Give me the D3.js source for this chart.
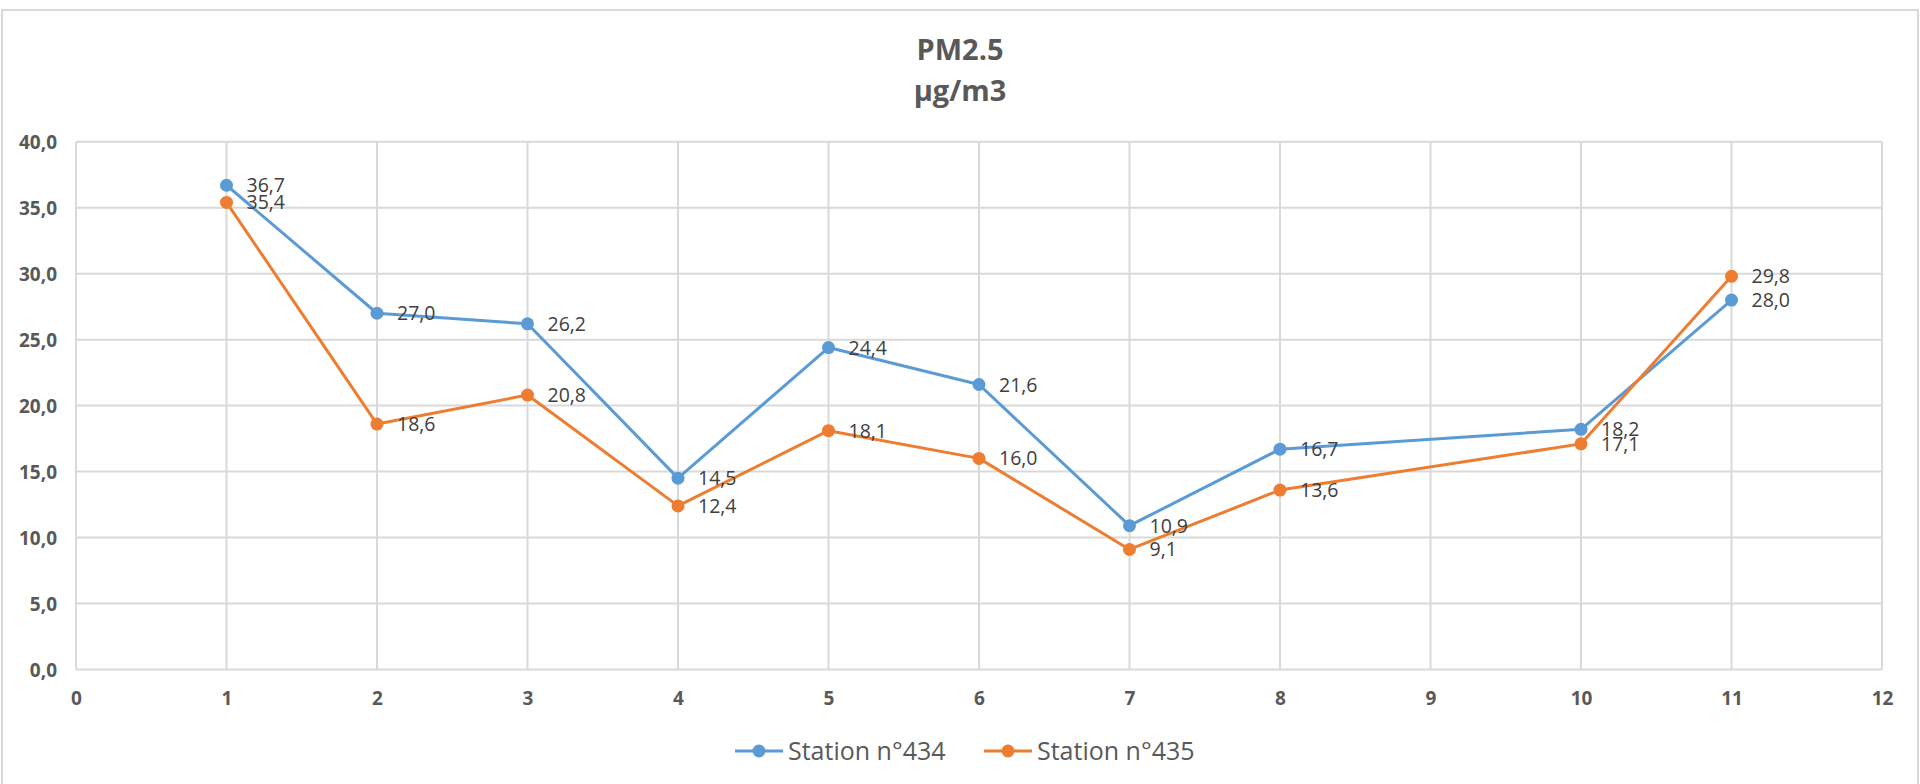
<!DOCTYPE html>
<html>
<head>
<meta charset="utf-8">
<script src="https://cdn.jsdelivr.net/npm/d3@7"></script>
<style>
  html, body { margin: 0; padding: 0; background: #fff; }
  svg { display: block; }
</style>
</head>
<body>
<svg id="chart" width="1920" height="784"></svg>
<script>
// ---- data ----
const titleLines = ["PM2.5", "µg/m3"];
const xValues = [1, 2, 3, 4, 5, 6, 7, 8, 10, 11];
const station434 = [36.7, 27.0, 26.2, 14.5, 24.4, 21.6, 10.9, 16.7, 18.2, 28.0];
const station435 = [35.4, 18.6, 20.8, 12.4, 18.1, 16.0, 9.1, 13.6, 17.1, 29.8];
const seriesNames = ["Station n°434", "Station n°435"];
const seriesColors = ["#5B9BD5", "#ED7D31"];
const xTicks = [0, 1, 2, 3, 4, 5, 6, 7, 8, 9, 10, 11, 12];
const yTicks = [0, 5, 10, 15, 20, 25, 30, 35, 40];

const svg = d3.select("#chart");
const FONT = "'Open Sans', 'Noto Sans', sans-serif";
const fmt = v => d3.format(".1f")(v).replace(".", ",");

// chart border
svg.append("rect")
  .attr("x", 2).attr("y", 10).attr("width", 1916).attr("height", 790)
  .attr("fill", "#fff").attr("stroke", "#d9d9d9").attr("stroke-width", 2);

const x = d3.scaleLinear().domain([0, 12]).range([76, 1882]);
const y = d3.scaleLinear().domain([0, 40]).range([669.5, 141.7]);

// title
svg.append("g").selectAll("text").data(titleLines).join("text")
  .attr("x", 960).attr("y", (d, i) => i === 0 ? 59.5 : 100.5)
  .attr("text-anchor", "middle")
  .attr("font-family", FONT).attr("font-weight", "bold").attr("font-size", 29)
  .attr("fill", "#595959").text(d => d);

// gridlines
const grid = svg.append("g");
grid.selectAll("line.h").data(yTicks).join("line").attr("class", "h")
  .attr("x1", x(0)).attr("x2", x(12))
  .attr("y1", d => y(d)).attr("y2", d => y(d))
  .attr("stroke", "#d9d9d9").attr("stroke-width", 2);
grid.selectAll("line.v").data(xTicks).join("line").attr("class", "v")
  .attr("x1", d => x(d)).attr("x2", d => x(d))
  .attr("y1", y(0)).attr("y2", y(40))
  .attr("stroke", "#d9d9d9").attr("stroke-width", 2);

// axes (labels via d3 axis generators)
const yAxis = d3.axisLeft(y).tickValues(yTicks).tickFormat(fmt).tickSize(0).tickPadding(19);
const gy = svg.append("g").attr("transform", `translate(${x(0)},0)`).call(yAxis);
gy.select(".domain").remove();
gy.selectAll("text").attr("font-family", FONT).attr("font-weight", "bold")
  .attr("font-size", 19).attr("fill", "#595959").attr("dy", "0.36em");

const xAxis = d3.axisBottom(x).tickValues(xTicks).tickFormat(d3.format("d")).tickSize(0).tickPadding(22);
const gx = svg.append("g").attr("transform", `translate(0,${y(0)})`).call(xAxis);
gx.select(".domain").remove();
gx.selectAll("text").attr("font-family", FONT).attr("font-weight", "bold")
  .attr("font-size", 19).attr("fill", "#595959").attr("dy", "0.71em");

// series
const allSeries = [station434, station435];
const line = d3.line().x(d => x(d.x)).y(d => y(d.v));
allSeries.forEach((vals, si) => {
  const pts = xValues.map((xv, i) => ({ x: xv, v: vals[i] }));
  const g = svg.append("g");
  g.append("path").datum(pts).attr("d", line)
    .attr("fill", "none").attr("stroke", seriesColors[si]).attr("stroke-width", 3)
    .attr("stroke-linejoin", "round");
  g.selectAll("circle").data(pts).join("circle")
    .attr("cx", d => x(d.x)).attr("cy", d => y(d.v)).attr("r", 6.5)
    .attr("fill", seriesColors[si]);
});
// data labels (drawn on top)
allSeries.forEach((vals, si) => {
  const pts = xValues.map((xv, i) => ({ x: xv, v: vals[i] }));
  svg.append("g").selectAll("text").data(pts).join("text")
    .attr("x", d => x(d.x) + 20).attr("y", d => y(d.v))
    .attr("dy", "0.36em")
    .attr("font-family", FONT).attr("font-size", 19.5).attr("fill", "#404040")
    .text(d => fmt(d.v));
});

// legend
const legendX = [735, 984];
const lg = svg.append("g");
seriesNames.forEach((name, i) => {
  const gx0 = legendX[i];
  lg.append("line").attr("x1", gx0).attr("x2", gx0 + 48).attr("y1", 751).attr("y2", 751)
    .attr("stroke", seriesColors[i]).attr("stroke-width", 3);
  lg.append("circle").attr("cx", gx0 + 24).attr("cy", 751).attr("r", 6.5).attr("fill", seriesColors[i]);
  lg.append("text").attr("x", gx0 + 53).attr("y", 751).attr("dy", "0.36em")
    .attr("font-family", FONT).attr("font-size", 25).attr("fill", "#595959").text(name);
});
</script>
</body>
</html>
